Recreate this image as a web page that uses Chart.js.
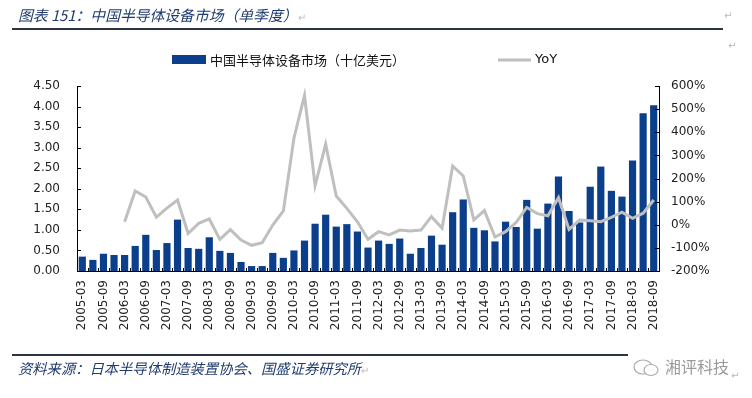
<!DOCTYPE html>
<html>
<head>
<meta charset="utf-8">
<script src="https://cdn.jsdelivr.net/npm/chart.js@4.4.1/dist/chart.umd.min.js"></script>
<style>
  body { margin: 0; background: #fff; }
  #wrap { position: relative; width: 752px; height: 398px; overflow: hidden; }
  #c { position: absolute; left: 0; top: 0; }
  .cap { position: absolute; font-family: "Noto Sans CJK SC", sans-serif; font-style: italic; color: #1f3b6e; font-size: 14px; white-space: nowrap; }
  .rule { position: absolute; height: 2px; background: #2a3443; }
  .ret { position: absolute; color: #b8b8b8; font-size: 10px; font-family: "DejaVu Sans", sans-serif; }
  .mark { position: absolute; font-family: "Noto Sans CJK SC", sans-serif; color: #9a9a9a; font-size: 16px; white-space: nowrap; }
</style>
</head>
<body>
<div id="wrap">
  <canvas id="c" width="752" height="398"></canvas>
  <div class="cap" style="left:18px; top:4px; font-size:14.8px;">图表 151：中国半导体设备市场（单季度）<span style="color:#bbb;font-size:10px;font-style:normal">↵</span></div>
  <span class="ret" style="left:724px; top:10px;">↵</span>
  <div class="rule" style="left:12px; top:28px; width:711px;"></div>
  <span class="ret" style="left:728px; top:40px;">↵</span>
  <div class="rule" style="left:12px; top:354px; width:616px;"></div>
  <div class="cap" style="left:18px; top:357px; font-size:14.3px;">资料来源：日本半导体制造装置协会、国盛证券研究所<span style="color:#bbb;font-size:10px;font-style:normal">↵</span></div>
  <svg style="position:absolute; left:632px; top:358px;" width="30" height="20" viewBox="0 0 30 20">
    <ellipse cx="11" cy="9" rx="9" ry="7" fill="none" stroke="#aaa" stroke-width="1.2"/>
    <ellipse cx="19" cy="12" rx="7" ry="5.5" fill="#fff" stroke="#aaa" stroke-width="1.2"/>
  </svg>
  <div class="mark" style="left:665px; top:354px;">湘评科技</div>
  <span class="ret" style="left:731px; top:370px;">↵</span>
</div>
<script>
const quarters = [
  "2005-03", "2005-06", "2005-09", "2005-12",
  "2006-03", "2006-06", "2006-09", "2006-12",
  "2007-03", "2007-06", "2007-09", "2007-12",
  "2008-03", "2008-06", "2008-09", "2008-12",
  "2009-03", "2009-06", "2009-09", "2009-12",
  "2010-03", "2010-06", "2010-09", "2010-12",
  "2011-03", "2011-06", "2011-09", "2011-12",
  "2012-03", "2012-06", "2012-09", "2012-12",
  "2013-03", "2013-06", "2013-09", "2013-12",
  "2014-03", "2014-06", "2014-09", "2014-12",
  "2015-03", "2015-06", "2015-09", "2015-12",
  "2016-03", "2016-06", "2016-09", "2016-12",
  "2017-03", "2017-06", "2017-09", "2017-12",
  "2018-03", "2018-06", "2018-09"
];

// 中国半导体设备市场（十亿美元）
const marketSize = [
  0.35, 0.27, 0.42, 0.39,
  0.39, 0.61, 0.88, 0.51,
  0.68, 1.25, 0.56, 0.54,
  0.82, 0.49, 0.44, 0.22,
  0.12, 0.12, 0.44, 0.32,
  0.50, 0.74, 1.15, 1.37,
  1.08, 1.14, 0.96, 0.57,
  0.74, 0.66, 0.79, 0.42,
  0.56, 0.86, 0.64, 1.43,
  1.74, 1.05, 0.99, 0.72,
  1.20, 1.07, 1.73, 1.03,
  1.64, 2.30, 1.46, 1.18,
  2.05, 2.54, 1.95, 1.81,
  2.69, 3.84, 4.03
];

// YoY (%)
const yoy = [
  null, null, null, null,
  13, 146, 120, 33,
  72, 107, -38, 6,
  25, -63, -21, -66,
  -89, -78, -1, 60,
  374, 559, 169, 348,
  124, 71, 13, -63,
  -30, -44, -23, -27,
  -23, 35, -15, 254,
  211, 21, 61, -53,
  -30, 10, 75, 48,
  39, 117, -20, 20,
  17, 13, 32, 54,
  28, 50, 107
];

const leftTicks = [0, 0.5, 1, 1.5, 2, 2.5, 3, 3.5, 4, 4.5];
const rightTicks = [-200, -100, 0, 100, 200, 300, 400, 500, 600];

const barColor = "#0c3f8b";
const lineColor = "#bfbfbf";
const tickFont = { family: "DejaVu Sans", size: 12 };

// inner tick marks + custom legend
const decor = {
  id: "decor",
  afterDraw(chart) {
    const ctx = chart.ctx;
    const area = chart.chartArea;
    const sx = chart.scales.x, sy = chart.scales.y, sy1 = chart.scales.y1;
    ctx.save();
    ctx.strokeStyle = "#000";
    ctx.lineWidth = 1;
    ctx.beginPath();
    sy.ticks.forEach(t => {
      const p = Math.round(sy.getPixelForValue(t.value)) + 0.5;
      ctx.moveTo(area.left, p); ctx.lineTo(area.left + 4, p);
    });
    sy1.ticks.forEach(t => {
      const p = Math.round(sy1.getPixelForValue(t.value)) + 0.5;
      ctx.moveTo(area.right - 4, p); ctx.lineTo(area.right, p);
    });
    for (let i = 0; i <= quarters.length; i++) {
      const p = Math.round(sx.getPixelForValue(i) - (sx.getPixelForValue(1) - sx.getPixelForValue(0)) / 2) + 0.5;
      ctx.moveTo(p, area.bottom); ctx.lineTo(p, area.bottom - 3);
    }
    ctx.stroke();

    // legend
    const ds = chart.data.datasets;
    ctx.fillStyle = ds[0].backgroundColor;
    ctx.fillRect(172, 55, 34, 9);
    ctx.font = '13px "Noto Sans CJK SC"';
    ctx.fillStyle = "#111";
    ctx.textBaseline = "middle";
    ctx.fillText(ds[0].label, 210, 60);
    ctx.strokeStyle = ds[1].borderColor;
    ctx.lineWidth = 3;
    ctx.beginPath();
    ctx.moveTo(498, 60); ctx.lineTo(531, 60);
    ctx.stroke();
    ctx.font = '13px "DejaVu Sans"';
    ctx.fillText(ds[1].label, 535, 60);
    ctx.restore();
  }
};

new Chart(document.getElementById("c"), {
  type: "bar",
  data: {
    labels: quarters,
    datasets: [
      {
        label: "中国半导体设备市场（十亿美元）",
        data: marketSize,
        backgroundColor: barColor,
        barPercentage: 0.68,
        categoryPercentage: 1,
        yAxisID: "y",
        order: 1
      },
      {
        type: "line",
        label: "YoY",
        data: yoy,
        borderColor: lineColor,
        borderWidth: 3,
        pointRadius: 0,
        tension: 0,
        spanGaps: false,
        yAxisID: "y1",
        order: 0
      }
    ]
  },
  options: {
    responsive: false,
    devicePixelRatio: 1,
    animation: false,
    layout: { padding: { top: 86, left: 0, right: 0, bottom: 0 } },
    plugins: {
      legend: { display: false },
      tooltip: { enabled: false }
    },
    scales: {
      x: {
        grid: { display: false, drawTicks: false },
        border: { display: true, color: "#000", width: 1 },
        ticks: {
          autoSkip: false,
          minRotation: 90,
          maxRotation: 90,
          padding: 9,
          color: "#222",
          font: tickFont,
          callback: (v, i) => (i % 2 === 0 ? quarters[i] : "")
        },
        afterFit: s => { s.height = 127; }
      },
      y: {
        position: "left",
        min: 0,
        max: 4.5,
        grid: { display: false, drawTicks: false },
        border: { display: true, color: "#000", width: 1 },
        afterBuildTicks: s => { s.ticks = leftTicks.map(v => ({ value: v })); },
        ticks: {
          padding: 17,
          color: "#222",
          font: tickFont,
          callback: v => v.toFixed(2)
        },
        afterFit: s => { s.width = 77; }
      },
      y1: {
        position: "right",
        min: -200,
        max: 600,
        grid: { display: false, drawTicks: false },
        border: { display: true, color: "#000", width: 1 },
        afterBuildTicks: s => { s.ticks = rightTicks.map(v => ({ value: v })); },
        ticks: {
          padding: 12,
          color: "#222",
          font: tickFont,
          callback: v => v + "%"
        },
        afterFit: s => { s.width = 93; }
      }
    }
  },
  plugins: [decor]
});
</script>
</body>
</html>
